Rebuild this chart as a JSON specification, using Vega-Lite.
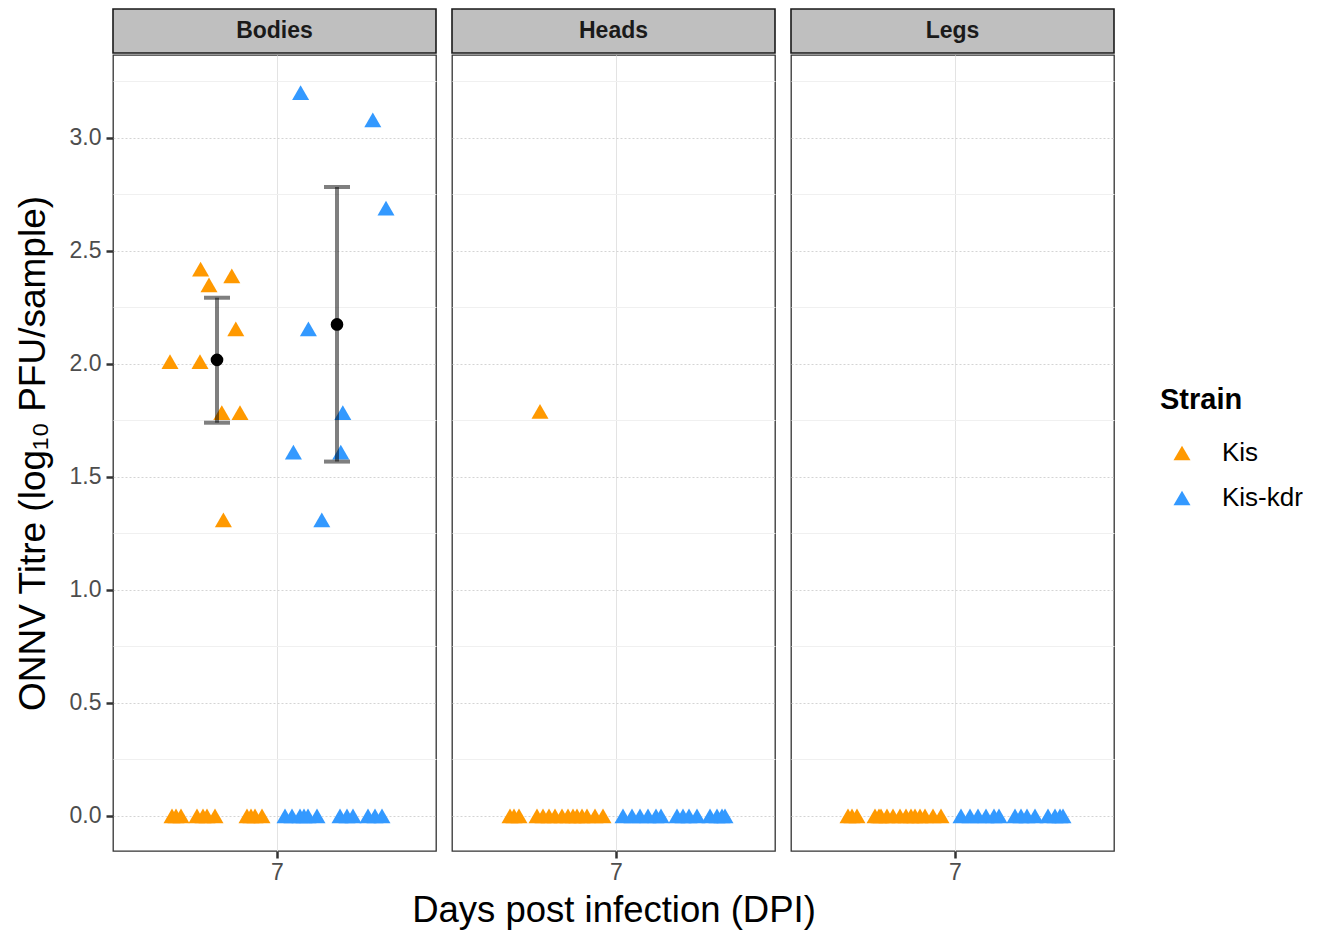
{
  "$schema": "https://vega.github.io/schema/vega-lite/v6.json",
  "background": "white",
  "padding": {"left": 13, "top": 8, "right": 5, "bottom": 5},
  "config": {
    "font": "Liberation Sans",
    "view": {"stroke": "#333333", "strokeWidth": 1.3},
    "axis": {
      "labelFont": "Liberation Sans", "titleFont": "Liberation Sans",
      "labelColor": "#4d4d4d", "labelFontSize": 23,
      "tickColor": "#333333", "tickWidth": 2.5, "tickSize": 7,
      "domain": false, "titleFontWeight": "normal", "titleColor": "black",
      "titleFontSize": 36.5, "labelPadding": 4
    },
    "axisX": {"gridColor": "#e3e3e3", "gridWidth": 1, "titlePadding": 8, "labelPadding": 3},
    "axisY": {"titlePadding": 17, "labelPadding": 5, "titleFontSize": 37},
    "legend": {
      "titleFont": "Liberation Sans", "labelFont": "Liberation Sans",
      "titleFontSize": 29, "titleFontWeight": "bold", "titleColor": "black",
      "labelFontSize": 26, "labelColor": "black",
      "symbolType": "triangle-up", "symbolSize": 290, "symbolStrokeWidth": 0,
      "rowPadding": 19, "titlePadding": 25, "labelOffset": 27, "symbolOffset": 9, "padding": 0
    }
  },
  "datasets": {
    "panels": [{"panel": "Bodies"}, {"panel": "Heads"}, {"panel": "Legs"}],
    "summary": [
      {"panel": "Bodies", "strain": "Kis", "dpi": 6.70, "mean": 2.018, "lo": 1.74, "hi": 2.293},
      {"panel": "Bodies", "strain": "Kis-kdr", "dpi": 7.30, "mean": 2.175, "lo": 1.568, "hi": 2.783}
    ],
    "points": [
      {"panel": "Bodies", "strain": "Kis", "dpi": 6.618, "titre": 2.42},
      {"panel": "Bodies", "strain": "Kis", "dpi": 6.774, "titre": 2.39},
      {"panel": "Bodies", "strain": "Kis", "dpi": 6.66, "titre": 2.35},
      {"panel": "Bodies", "strain": "Kis", "dpi": 6.794, "titre": 2.155},
      {"panel": "Bodies", "strain": "Kis", "dpi": 6.465, "titre": 2.01},
      {"panel": "Bodies", "strain": "Kis", "dpi": 6.615, "titre": 2.01},
      {"panel": "Bodies", "strain": "Kis", "dpi": 6.724, "titre": 1.785},
      {"panel": "Bodies", "strain": "Kis", "dpi": 6.815, "titre": 1.785},
      {"panel": "Bodies", "strain": "Kis", "dpi": 6.732, "titre": 1.31},
      {"panel": "Bodies", "strain": "Kis", "dpi": 6.475, "titre": 0},
      {"panel": "Bodies", "strain": "Kis", "dpi": 6.495, "titre": 0},
      {"panel": "Bodies", "strain": "Kis", "dpi": 6.52, "titre": 0},
      {"panel": "Bodies", "strain": "Kis", "dpi": 6.6, "titre": 0},
      {"panel": "Bodies", "strain": "Kis", "dpi": 6.63, "titre": 0},
      {"panel": "Bodies", "strain": "Kis", "dpi": 6.65, "titre": 0},
      {"panel": "Bodies", "strain": "Kis", "dpi": 6.69, "titre": 0},
      {"panel": "Bodies", "strain": "Kis", "dpi": 6.85, "titre": 0},
      {"panel": "Bodies", "strain": "Kis", "dpi": 6.87, "titre": 0},
      {"panel": "Bodies", "strain": "Kis", "dpi": 6.89, "titre": 0},
      {"panel": "Bodies", "strain": "Kis", "dpi": 6.925, "titre": 0},
      {"panel": "Bodies", "strain": "Kis-kdr", "dpi": 7.118, "titre": 3.2},
      {"panel": "Bodies", "strain": "Kis-kdr", "dpi": 7.479, "titre": 3.08},
      {"panel": "Bodies", "strain": "Kis-kdr", "dpi": 7.545, "titre": 2.69},
      {"panel": "Bodies", "strain": "Kis-kdr", "dpi": 7.157, "titre": 2.155},
      {"panel": "Bodies", "strain": "Kis-kdr", "dpi": 7.329, "titre": 1.785},
      {"panel": "Bodies", "strain": "Kis-kdr", "dpi": 7.082, "titre": 1.61},
      {"panel": "Bodies", "strain": "Kis-kdr", "dpi": 7.319, "titre": 1.61},
      {"panel": "Bodies", "strain": "Kis-kdr", "dpi": 7.224, "titre": 1.31},
      {"panel": "Bodies", "strain": "Kis-kdr", "dpi": 7.04, "titre": 0},
      {"panel": "Bodies", "strain": "Kis-kdr", "dpi": 7.075, "titre": 0},
      {"panel": "Bodies", "strain": "Kis-kdr", "dpi": 7.115, "titre": 0},
      {"panel": "Bodies", "strain": "Kis-kdr", "dpi": 7.135, "titre": 0},
      {"panel": "Bodies", "strain": "Kis-kdr", "dpi": 7.155, "titre": 0},
      {"panel": "Bodies", "strain": "Kis-kdr", "dpi": 7.2, "titre": 0},
      {"panel": "Bodies", "strain": "Kis-kdr", "dpi": 7.315, "titre": 0},
      {"panel": "Bodies", "strain": "Kis-kdr", "dpi": 7.35, "titre": 0},
      {"panel": "Bodies", "strain": "Kis-kdr", "dpi": 7.38, "titre": 0},
      {"panel": "Bodies", "strain": "Kis-kdr", "dpi": 7.455, "titre": 0},
      {"panel": "Bodies", "strain": "Kis-kdr", "dpi": 7.49, "titre": 0},
      {"panel": "Bodies", "strain": "Kis-kdr", "dpi": 7.525, "titre": 0},
      {"panel": "Heads", "strain": "Kis", "dpi": 6.62, "titre": 1.79},
      {"panel": "Heads", "strain": "Kis", "dpi": 6.47, "titre": 0},
      {"panel": "Heads", "strain": "Kis", "dpi": 6.49, "titre": 0},
      {"panel": "Heads", "strain": "Kis", "dpi": 6.515, "titre": 0},
      {"panel": "Heads", "strain": "Kis", "dpi": 6.605, "titre": 0},
      {"panel": "Heads", "strain": "Kis", "dpi": 6.635, "titre": 0},
      {"panel": "Heads", "strain": "Kis", "dpi": 6.665, "titre": 0},
      {"panel": "Heads", "strain": "Kis", "dpi": 6.695, "titre": 0},
      {"panel": "Heads", "strain": "Kis", "dpi": 6.73, "titre": 0},
      {"panel": "Heads", "strain": "Kis", "dpi": 6.76, "titre": 0},
      {"panel": "Heads", "strain": "Kis", "dpi": 6.785, "titre": 0},
      {"panel": "Heads", "strain": "Kis", "dpi": 6.805, "titre": 0},
      {"panel": "Heads", "strain": "Kis", "dpi": 6.83, "titre": 0},
      {"panel": "Heads", "strain": "Kis", "dpi": 6.855, "titre": 0},
      {"panel": "Heads", "strain": "Kis", "dpi": 6.895, "titre": 0},
      {"panel": "Heads", "strain": "Kis", "dpi": 6.935, "titre": 0},
      {"panel": "Heads", "strain": "Kis-kdr", "dpi": 7.035, "titre": 0},
      {"panel": "Heads", "strain": "Kis-kdr", "dpi": 7.08, "titre": 0},
      {"panel": "Heads", "strain": "Kis-kdr", "dpi": 7.12, "titre": 0},
      {"panel": "Heads", "strain": "Kis-kdr", "dpi": 7.16, "titre": 0},
      {"panel": "Heads", "strain": "Kis-kdr", "dpi": 7.2, "titre": 0},
      {"panel": "Heads", "strain": "Kis-kdr", "dpi": 7.225, "titre": 0},
      {"panel": "Heads", "strain": "Kis-kdr", "dpi": 7.305, "titre": 0},
      {"panel": "Heads", "strain": "Kis-kdr", "dpi": 7.335, "titre": 0},
      {"panel": "Heads", "strain": "Kis-kdr", "dpi": 7.365, "titre": 0},
      {"panel": "Heads", "strain": "Kis-kdr", "dpi": 7.405, "titre": 0},
      {"panel": "Heads", "strain": "Kis-kdr", "dpi": 7.47, "titre": 0},
      {"panel": "Heads", "strain": "Kis-kdr", "dpi": 7.505, "titre": 0},
      {"panel": "Heads", "strain": "Kis-kdr", "dpi": 7.53, "titre": 0},
      {"panel": "Heads", "strain": "Kis-kdr", "dpi": 7.545, "titre": 0},
      {"panel": "Legs", "strain": "Kis", "dpi": 6.465, "titre": 0},
      {"panel": "Legs", "strain": "Kis", "dpi": 6.485, "titre": 0},
      {"panel": "Legs", "strain": "Kis", "dpi": 6.51, "titre": 0},
      {"panel": "Legs", "strain": "Kis", "dpi": 6.6, "titre": 0},
      {"panel": "Legs", "strain": "Kis", "dpi": 6.62, "titre": 0},
      {"panel": "Legs", "strain": "Kis", "dpi": 6.63, "titre": 0},
      {"panel": "Legs", "strain": "Kis", "dpi": 6.66, "titre": 0},
      {"panel": "Legs", "strain": "Kis", "dpi": 6.69, "titre": 0},
      {"panel": "Legs", "strain": "Kis", "dpi": 6.725, "titre": 0},
      {"panel": "Legs", "strain": "Kis", "dpi": 6.755, "titre": 0},
      {"panel": "Legs", "strain": "Kis", "dpi": 6.78, "titre": 0},
      {"panel": "Legs", "strain": "Kis", "dpi": 6.8, "titre": 0},
      {"panel": "Legs", "strain": "Kis", "dpi": 6.825, "titre": 0},
      {"panel": "Legs", "strain": "Kis", "dpi": 6.85, "titre": 0},
      {"panel": "Legs", "strain": "Kis", "dpi": 6.89, "titre": 0},
      {"panel": "Legs", "strain": "Kis", "dpi": 6.93, "titre": 0},
      {"panel": "Legs", "strain": "Kis-kdr", "dpi": 7.03, "titre": 0},
      {"panel": "Legs", "strain": "Kis-kdr", "dpi": 7.075, "titre": 0},
      {"panel": "Legs", "strain": "Kis-kdr", "dpi": 7.115, "titre": 0},
      {"panel": "Legs", "strain": "Kis-kdr", "dpi": 7.155, "titre": 0},
      {"panel": "Legs", "strain": "Kis-kdr", "dpi": 7.195, "titre": 0},
      {"panel": "Legs", "strain": "Kis-kdr", "dpi": 7.22, "titre": 0},
      {"panel": "Legs", "strain": "Kis-kdr", "dpi": 7.3, "titre": 0},
      {"panel": "Legs", "strain": "Kis-kdr", "dpi": 7.33, "titre": 0},
      {"panel": "Legs", "strain": "Kis-kdr", "dpi": 7.36, "titre": 0},
      {"panel": "Legs", "strain": "Kis-kdr", "dpi": 7.4, "titre": 0},
      {"panel": "Legs", "strain": "Kis-kdr", "dpi": 7.465, "titre": 0},
      {"panel": "Legs", "strain": "Kis-kdr", "dpi": 7.5, "titre": 0},
      {"panel": "Legs", "strain": "Kis-kdr", "dpi": 7.525, "titre": 0},
      {"panel": "Legs", "strain": "Kis-kdr", "dpi": 7.54, "titre": 0}
    ]
  },
  "spacing": 0,
  "vconcat": [
    {
      "spacing": 16,
      "bounds": "flush",
      "hconcat": [
        {
          "width": 323, "height": 44,
          "data": {"name": "panels"},
          "transform": [{"filter": "datum.panel === 'Bodies'"}],
          "view": {"fill": "#bfbfbf", "stroke": "#1a1a1a", "strokeWidth": 1.6},
          "mark": {"type": "text", "fontSize": 23, "fontWeight": "bold", "color": "#1a1a1a", "align": "center", "baseline": "middle"},
          "encoding": {"text": {"field": "panel", "type": "nominal"}}
        },
        {
          "width": 323, "height": 44,
          "data": {"name": "panels"},
          "transform": [{"filter": "datum.panel === 'Heads'"}],
          "view": {"fill": "#bfbfbf", "stroke": "#1a1a1a", "strokeWidth": 1.6},
          "mark": {"type": "text", "fontSize": 23, "fontWeight": "bold", "color": "#1a1a1a", "align": "center", "baseline": "middle"},
          "encoding": {"text": {"field": "panel", "type": "nominal"}}
        },
        {
          "width": 323, "height": 44,
          "data": {"name": "panels"},
          "transform": [{"filter": "datum.panel === 'Legs'"}],
          "view": {"fill": "#bfbfbf", "stroke": "#1a1a1a", "strokeWidth": 1.6},
          "mark": {"type": "text", "fontSize": 23, "fontWeight": "bold", "color": "#1a1a1a", "align": "center", "baseline": "middle"},
          "encoding": {"text": {"field": "panel", "type": "nominal"}}
        }
      ]
    },
    {
      "spacing": 16,
      "bounds": "flush",
      "hconcat": [
        {
          "width": 323, "height": 796,
          "layer": [
            {
              "data": {"name": "points"},
              "transform": [{"filter": "datum.panel === 'Bodies'"}],
              "mark": {"type": "point", "shape": "triangle-up", "filled": true, "size": 290, "opacity": 1, "strokeWidth": 0},
              "encoding": {
                "x": {"field": "dpi", "type": "quantitative", "title": null, "scale": {"domain": [6.18, 7.795], "nice": false, "zero": false}, "axis": {"values": [7], "format": "d", "grid": true}},
                "y": {"field": "titre", "type": "quantitative", "title": "ONNV Titre (log₁₀ PFU/sample)", "scale": {"domain": [-0.155, 3.367], "nice": false, "zero": false},
                  "axis": {"values": [0, 0.25, 0.5, 0.75, 1, 1.25, 1.5, 1.75, 2, 2.25, 2.5, 2.75, 3, 3.25],
                    "labelExpr": "datum.value % 0.5 === 0 ? format(datum.value, '.1f') : ''",
                    "tickOpacity": {"condition": {"test": "datum.value % 0.5 !== 0", "value": 0}, "value": 1},
                    "gridColor": {"condition": {"test": "datum.value % 0.5 !== 0", "value": "#f0f0f0"}, "value": "#d4d4d4"},
                    "gridDash": {"condition": {"test": "datum.value % 0.5 !== 0", "value": []}, "value": [2, 2]}}},
                "color": {"field": "strain", "type": "nominal", "scale": {"domain": ["Kis", "Kis-kdr"], "range": ["#ff9900", "#3399ff"]}, "legend": {"title": "Strain", "orient": "none", "legendX": 1047, "legendY": 377}}
              }
            },
            {
              "data": {"name": "summary"},
              "transform": [{"filter": "datum.panel === 'Bodies'"}],
              "mark": {"type": "rule", "color": "black", "opacity": 0.5, "strokeWidth": 4},
              "encoding": {
                "x": {"field": "dpi", "type": "quantitative", "title": null},
                "y": {"field": "lo", "type": "quantitative", "title": "ONNV Titre (log₁₀ PFU/sample)"},
                "y2": {"field": "hi"}
              }
            },
            {
              "data": {"name": "summary"},
              "transform": [{"filter": "datum.panel === 'Bodies'"}],
              "mark": {"type": "tick", "orient": "horizontal", "size": 26, "thickness": 4, "color": "black", "opacity": 0.5},
              "encoding": {
                "x": {"field": "dpi", "type": "quantitative", "title": null},
                "y": {"field": "lo", "type": "quantitative", "title": "ONNV Titre (log₁₀ PFU/sample)"}
              }
            },
            {
              "data": {"name": "summary"},
              "transform": [{"filter": "datum.panel === 'Bodies'"}],
              "mark": {"type": "tick", "orient": "horizontal", "size": 26, "thickness": 4, "color": "black", "opacity": 0.5},
              "encoding": {
                "x": {"field": "dpi", "type": "quantitative", "title": null},
                "y": {"field": "hi", "type": "quantitative", "title": "ONNV Titre (log₁₀ PFU/sample)"}
              }
            },
            {
              "data": {"name": "summary"},
              "transform": [{"filter": "datum.panel === 'Bodies'"}],
              "mark": {"type": "circle", "size": 160, "color": "black", "opacity": 1},
              "encoding": {
                "x": {"field": "dpi", "type": "quantitative", "title": null},
                "y": {"field": "mean", "type": "quantitative", "title": "ONNV Titre (log₁₀ PFU/sample)"}
              }
            }
          ]
        },
        {
          "width": 323, "height": 796,
          "data": {"name": "points"},
          "transform": [{"filter": "datum.panel === 'Heads'"}],
          "mark": {"type": "point", "shape": "triangle-up", "filled": true, "size": 290, "opacity": 1, "strokeWidth": 0},
          "encoding": {
            "x": {"field": "dpi", "type": "quantitative", "title": "Days post infection (DPI)", "scale": {"domain": [6.18, 7.795], "nice": false, "zero": false}, "axis": {"values": [7], "format": "d", "grid": true}},
            "y": {"field": "titre", "type": "quantitative", "title": null, "scale": {"domain": [-0.155, 3.367], "nice": false, "zero": false},
              "axis": {"values": [0, 0.25, 0.5, 0.75, 1, 1.25, 1.5, 1.75, 2, 2.25, 2.5, 2.75, 3, 3.25],
                "labels": false, "ticks": false, "minExtent": 0, "maxExtent": 0,
                "gridColor": {"condition": {"test": "datum.value % 0.5 !== 0", "value": "#f0f0f0"}, "value": "#d4d4d4"},
                "gridDash": {"condition": {"test": "datum.value % 0.5 !== 0", "value": []}, "value": [2, 2]}}},
            "color": {"field": "strain", "type": "nominal", "scale": {"domain": ["Kis", "Kis-kdr"], "range": ["#ff9900", "#3399ff"]}, "legend": {"title": "Strain", "orient": "none", "legendX": 1047, "legendY": 377}}
          }
        },
        {
          "width": 323, "height": 796,
          "data": {"name": "points"},
          "transform": [{"filter": "datum.panel === 'Legs'"}],
          "mark": {"type": "point", "shape": "triangle-up", "filled": true, "size": 290, "opacity": 1, "strokeWidth": 0},
          "encoding": {
            "x": {"field": "dpi", "type": "quantitative", "title": null, "scale": {"domain": [6.18, 7.795], "nice": false, "zero": false}, "axis": {"values": [7], "format": "d", "grid": true}},
            "y": {"field": "titre", "type": "quantitative", "title": null, "scale": {"domain": [-0.155, 3.367], "nice": false, "zero": false},
              "axis": {"values": [0, 0.25, 0.5, 0.75, 1, 1.25, 1.5, 1.75, 2, 2.25, 2.5, 2.75, 3, 3.25],
                "labels": false, "ticks": false, "minExtent": 0, "maxExtent": 0,
                "gridColor": {"condition": {"test": "datum.value % 0.5 !== 0", "value": "#f0f0f0"}, "value": "#d4d4d4"},
                "gridDash": {"condition": {"test": "datum.value % 0.5 !== 0", "value": []}, "value": [2, 2]}}},
            "color": {"field": "strain", "type": "nominal", "scale": {"domain": ["Kis", "Kis-kdr"], "range": ["#ff9900", "#3399ff"]}, "legend": {"title": "Strain", "orient": "none", "legendX": 1047, "legendY": 377}}
          }
        }
      ]
    }
  ]
}
